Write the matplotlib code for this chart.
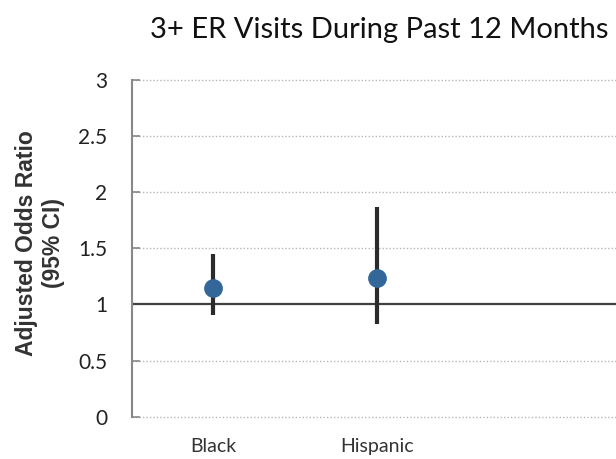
import matplotlib
matplotlib.use("Agg")
import matplotlib.pyplot as plt

# Adjusted odds ratios with 95% confidence intervals
groups = ["Black", "Hispanic"]
odds_ratio = [1.15, 1.24]
ci_low = [0.91, 0.83]
ci_high = [1.45, 1.87]
y_ticks = [0, 0.5, 1, 1.5, 2, 2.5, 3]
y_tick_labels = ["0", "0.5", "1", "1.5", "2", "2.5", "3"]

fig = plt.figure(figsize=(6.16, 4.59), dpi=100)
ax = fig.add_axes([0.2148, 0.0922, 0.7852, 0.7335])

x = list(range(len(groups)))

# dotted gridlines and reference line at OR = 1
for yv in y_ticks:
    if yv == 1:
        continue
    ax.axhline(yv, color="#b5b5b5", lw=1.0, ls=(0, (1, 1.5)), zorder=1, clip_on=False)
ax.axhline(1, color="#404040", lw=1.6, zorder=2)

# confidence intervals
err_low = [o - l for o, l in zip(odds_ratio, ci_low)]
err_high = [h - o for o, h in zip(odds_ratio, ci_high)]
ax.errorbar(x, odds_ratio, yerr=[err_low, err_high], fmt="none",
            ecolor="#2b2b2b", elinewidth=3.0, capsize=0, zorder=3)
ax.plot(x, odds_ratio, "o", ms=13.5, color="#336699", mec="none", zorder=4)

ax.set_xlim(-0.494, 2.455)
ax.set_ylim(0, 3)
ax.set_xticks(x)
ax.set_xticklabels(groups, fontsize=14, family="Lato", color="#333333")
ax.set_yticks(y_ticks)
ax.set_yticklabels(y_tick_labels, fontsize=15, family="Lato", color="#222222")

ax.tick_params(axis="x", length=0, pad=15)
ax.tick_params(axis="y", direction="in", length=6, width=1.2, color="#888888", pad=18)

for side in ["top", "right", "bottom"]:
    ax.spines[side].set_visible(False)
ax.spines["left"].set_color("#888888")
ax.spines["left"].set_linewidth(1.5)

fig.text(0.065, 0.4706, "Adjusted Odds Ratio\n(95% CI)", rotation=90,
         ha="center", va="center", multialignment="center",
         fontsize=16.5, fontweight="bold", family="Liberation Sans",
         color="#333333", linespacing=1.2)

fig.text(0.615, 0.935, "3+ ER Visits During Past 12 Months", ha="center",
         va="center", fontsize=21, family="Lato", color="#111111")

fig.savefig("out.png", dpi=100)
